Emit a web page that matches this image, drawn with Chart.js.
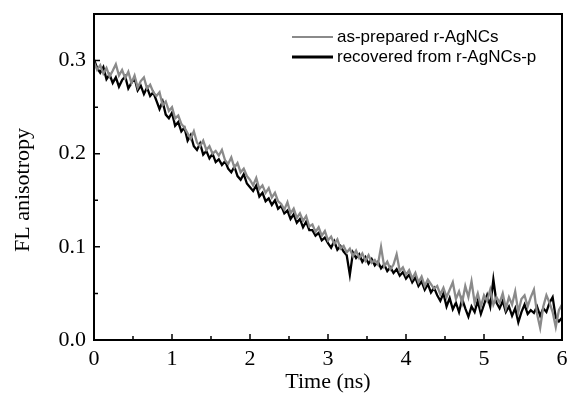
<!DOCTYPE html>
<html>
<head>
<meta charset="utf-8">
<script src="https://cdn.jsdelivr.net/npm/chart.js@4/dist/chart.umd.min.js"></script>
<style>
  html, body { margin: 0; padding: 0; background: #fff; }
  #wrap { width: 570px; height: 403px; }
</style>
</head>
<body>
<div id="wrap"><canvas id="c"></canvas></div>
<script>
// sampling step of the decay traces (ns)
const timeStep = 0.04

const asPrepared = [
  0.298, 0.290, 0.295, 0.286, 0.292, 0.283, 0.289, 0.296, 0.284, 0.290,
  0.281, 0.288, 0.276, 0.284, 0.271, 0.278, 0.282, 0.270, 0.274, 0.266,
  0.262, 0.266, 0.252, 0.256, 0.246, 0.250, 0.238, 0.241, 0.232, 0.228,
  0.222, 0.216, 0.224, 0.212, 0.208, 0.214, 0.204, 0.208, 0.200, 0.203,
  0.198, 0.204, 0.193, 0.189, 0.196, 0.185, 0.190, 0.180, 0.184, 0.176,
  0.172, 0.166, 0.174, 0.162, 0.166, 0.158, 0.163, 0.153, 0.158, 0.149,
  0.146, 0.140, 0.148, 0.136, 0.141, 0.131, 0.136, 0.128, 0.133, 0.122,
  0.124, 0.116, 0.121, 0.112, 0.117, 0.107, 0.111, 0.103, 0.108, 0.098,
  0.101, 0.094, 0.098, 0.090, 0.096, 0.088, 0.093, 0.085, 0.091, 0.083,
  0.086, 0.081, 0.100, 0.079, 0.084, 0.076, 0.081, 0.092, 0.074, 0.078,
  0.070, 0.075, 0.066, 0.072, 0.062, 0.068, 0.058, 0.065, 0.060, 0.055,
  0.058, 0.049, 0.056, 0.046, 0.054, 0.062, 0.044, 0.052, 0.040, 0.058,
  0.046, 0.063, 0.040, 0.050, 0.036, 0.048, 0.042, 0.054, 0.038, 0.046,
  0.040, 0.050, 0.034, 0.046, 0.038, 0.052, 0.030, 0.044, 0.048, 0.036,
  0.046, 0.054, 0.028, 0.013, 0.036, 0.048, 0.040, 0.030, 0.014, 0.032,
  0.038
]

const recovered = [
  0.301, 0.292, 0.287, 0.293, 0.280, 0.285, 0.276, 0.282, 0.272, 0.279,
  0.283, 0.270, 0.276, 0.281, 0.268, 0.273, 0.264, 0.271, 0.262, 0.266,
  0.257, 0.248, 0.256, 0.242, 0.238, 0.244, 0.230, 0.234, 0.224, 0.228,
  0.214, 0.220, 0.208, 0.204, 0.211, 0.199, 0.203, 0.195, 0.200, 0.191,
  0.194, 0.188, 0.192, 0.184, 0.180, 0.186, 0.176, 0.172, 0.178, 0.168,
  0.164, 0.160, 0.166, 0.154, 0.158, 0.149, 0.152, 0.145, 0.150, 0.141,
  0.144, 0.136, 0.139, 0.130, 0.135, 0.126, 0.130, 0.121, 0.127, 0.118,
  0.118, 0.112, 0.115, 0.107, 0.110, 0.104, 0.099, 0.106, 0.097, 0.101,
  0.095, 0.091, 0.070, 0.094, 0.088, 0.092, 0.084, 0.089, 0.082, 0.087,
  0.080, 0.084, 0.077, 0.081, 0.074, 0.078, 0.072, 0.076, 0.069, 0.073,
  0.066, 0.070, 0.062, 0.067, 0.058, 0.063, 0.054, 0.060, 0.051, 0.056,
  0.048, 0.042, 0.050, 0.036, 0.045, 0.033, 0.040, 0.030, 0.044, 0.034,
  0.025, 0.036, 0.030, 0.042, 0.028, 0.038, 0.048, 0.036, 0.065, 0.040,
  0.034, 0.042, 0.030, 0.036, 0.026, 0.034, 0.019, 0.030, 0.038, 0.028,
  0.032, 0.029, 0.036, 0.026, 0.034, 0.030, 0.040, 0.046, 0.024, 0.020,
  0.024
]

const xTicks = [0, 1, 2, 3, 4, 5, 6]
const yTicks = [0, 0.1, 0.2, 0.3]
const seriesNames = ['as-prepared r-AgNCs', 'recovered from r-AgNCs-p']
const seriesColors = ['#8a8a8a', '#000000']

const serif = "'Liberation Serif', 'Times New Roman', serif"
const sans = "'Liberation Sans', Arial, sans-serif"

const toPoints = arr => arr.map((v, i) => ({ x: +(i * timeStep).toFixed(2), y: v }))

// box around the plot, inward ticks, y title and the in-plot legend
const framePlugin = {
  id: 'frame',
  afterDraw(chart) {
    const { ctx, chartArea: a, scales: { x, y } } = chart
    ctx.save()
    ctx.strokeStyle = '#000'
    ctx.lineWidth = 2
    ctx.strokeRect(a.left, a.top, a.right - a.left, a.bottom - a.top)
    ctx.lineWidth = 1.5
    ctx.beginPath()
    xTicks.forEach((t, i) => {
      const px = x.getPixelForValue(t)
      ctx.moveTo(px, a.bottom); ctx.lineTo(px, a.bottom - 6)
      if (i < xTicks.length - 1) {
        const mx = x.getPixelForValue((t + xTicks[i + 1]) / 2)
        ctx.moveTo(mx, a.bottom); ctx.lineTo(mx, a.bottom - 4)
      }
    })
    yTicks.forEach((t, i) => {
      const py = y.getPixelForValue(t)
      ctx.moveTo(a.left, py); ctx.lineTo(a.left + 6, py)
      const next = i < yTicks.length - 1 ? yTicks[i + 1] : t + 0.1
      const my = y.getPixelForValue((t + next) / 2)
      if (my > a.top + 1) { ctx.moveTo(a.left, my); ctx.lineTo(a.left + 4, my) }
    })
    ctx.stroke()

    ctx.save()
    ctx.translate(23, 190)
    ctx.rotate(-Math.PI / 2)
    ctx.font = `22px ${serif}`
    ctx.fillStyle = '#000'
    ctx.textAlign = 'center'
    ctx.textBaseline = 'middle'
    ctx.fillText('FL anisotropy', 0, 0)
    ctx.restore()

    ctx.font = `17px ${sans}`
    ctx.textBaseline = 'middle'
    ctx.textAlign = 'left'
    seriesNames.forEach((name, i) => {
      const yy = 37 + i * 20
      ctx.strokeStyle = seriesColors[i]
      ctx.lineWidth = i === 0 ? 2 : 3
      ctx.beginPath()
      ctx.moveTo(292, yy); ctx.lineTo(333, yy)
      ctx.stroke()
      ctx.fillStyle = '#000'
      ctx.fillText(name, 337, yy)
    })
    ctx.restore()
  }
}

new Chart(document.getElementById('c'), {
  type: 'line',
  data: {
    datasets: [
      {
        label: seriesNames[0],
        data: toPoints(asPrepared),
        borderColor: seriesColors[0],
        borderWidth: 2.3,
        pointRadius: 0,
        tension: 0
      },
      {
        label: seriesNames[1],
        data: toPoints(recovered),
        borderColor: seriesColors[1],
        borderWidth: 2.3,
        pointRadius: 0,
        tension: 0
      }
    ]
  },
  options: {
    responsive: true,
    maintainAspectRatio: false,
    animation: false,
    events: [],
    layout: { padding: { top: 14, right: 8, left: 0, bottom: 0 } },
    plugins: {
      legend: { display: false },
      tooltip: { enabled: false }
    },
    scales: {
      x: {
        type: 'linear',
        min: 0,
        max: 6,
        afterFit: s => { s.height = 63; s.paddingLeft = 0; s.paddingRight = 0 },
        grid: { drawOnChartArea: false, drawTicks: false },
        border: { display: false },
        ticks: {
          stepSize: 1,
          padding: 6,
          color: '#000',
          font: { family: serif, size: 22 },
          maxRotation: 0
        },
        title: {
          display: true,
          text: 'Time (ns)',
          color: '#000',
          font: { family: serif, size: 22 },
          padding: { top: 0, bottom: 8 }
        }
      },
      y: {
        min: 0,
        max: 0.35,
        afterFit: s => { s.width = 94; s.paddingTop = 0; s.paddingBottom = 0 },
        grid: { drawOnChartArea: false, drawTicks: false },
        border: { display: false },
        ticks: {
          stepSize: 0.1,
          includeBounds: false,
          padding: 8,
          color: '#000',
          font: { family: serif, size: 22 },
          callback: v => v.toFixed(1)
        }
      }
    }
  },
  plugins: [framePlugin]
})
</script>
</body>
</html>
